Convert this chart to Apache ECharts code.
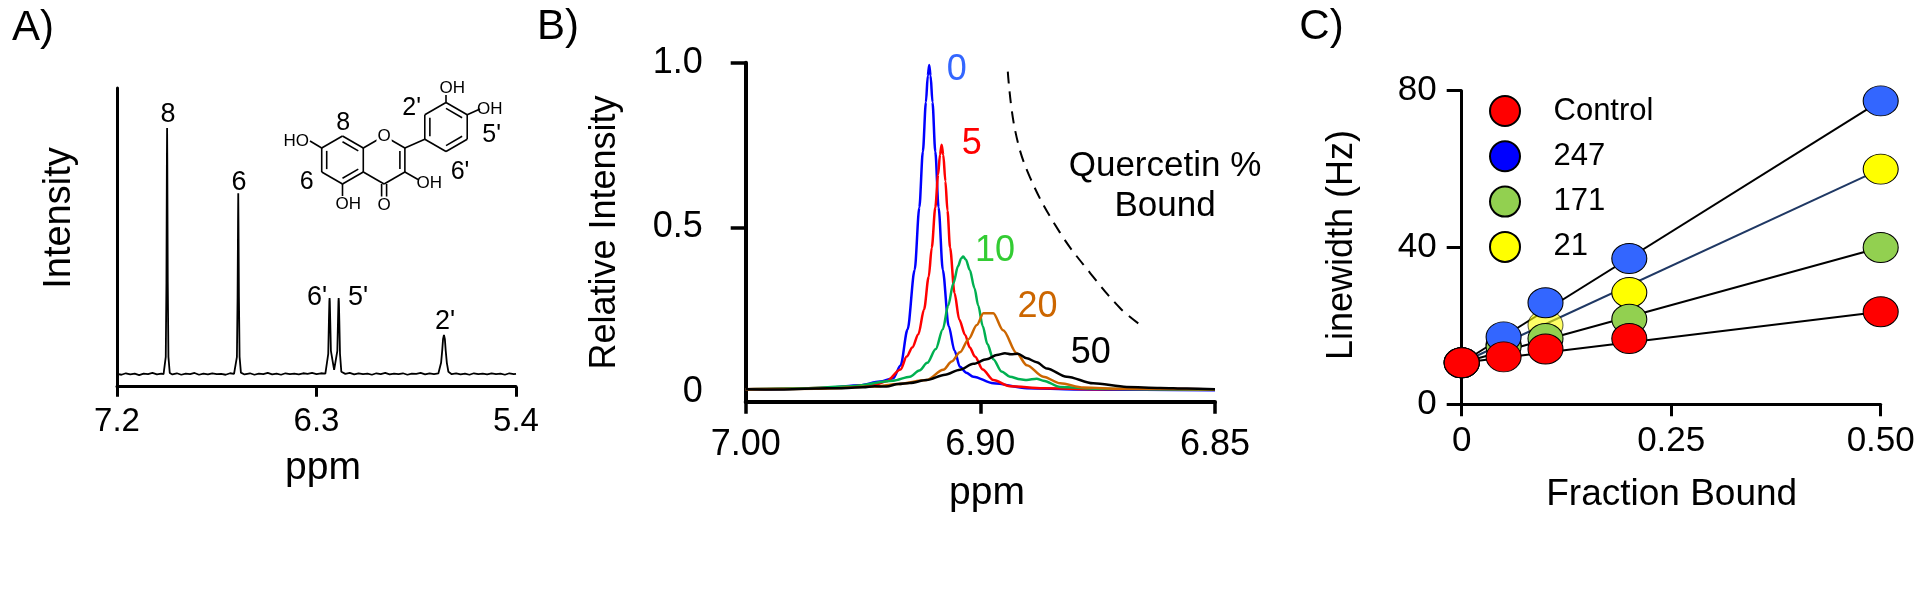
<!DOCTYPE html>
<html>
<head>
<meta charset="utf-8">
<title>Quercetin linewidth</title>
<script src="https://cdn.jsdelivr.net/npm/echarts@6.0.0/dist/echarts.min.js"></script>
<style>
  html, body { margin: 0; padding: 0; background: #fff; }
  #chart { width: 1920px; height: 595px; }
</style>
</head>
<body>
<div id="chart"></div>
<script>
// ---- A) 1H spectrum of free quercetin, [ppm, intensity] ----
const specA = [
  [7.200,0.043],[7.180,0.040],[7.160,0.045],[7.140,0.041],[7.120,0.044],[7.100,0.039],[7.080,0.044],
  [7.060,0.042],[7.040,0.046],[7.020,0.041],[7.000,0.044],[6.990,0.042],
  [6.986,0.046],[6.980,0.10],[6.977,0.35],[6.975,0.75],[6.974,0.866],[6.973,0.75],[6.971,0.35],[6.968,0.10],[6.962,0.046],
  [6.950,0.041],[6.930,0.045],[6.910,0.040],[6.890,0.044],[6.870,0.042],[6.850,0.046],[6.830,0.040],[6.810,0.044],
  [6.790,0.041],[6.770,0.045],[6.750,0.042],[6.730,0.043],[6.710,0.040],[6.690,0.045],[6.672,0.043],
  [6.665,0.048],[6.659,0.10],[6.656,0.30],[6.654,0.55],[6.653,0.648],[6.652,0.55],[6.650,0.30],[6.647,0.10],[6.641,0.047],
  [6.625,0.041],[6.600,0.045],[6.580,0.040],[6.560,0.044],[6.540,0.042],[6.520,0.046],[6.500,0.041],[6.480,0.044],
  [6.460,0.040],[6.440,0.045],[6.420,0.042],[6.400,0.044],[6.380,0.041],[6.360,0.045],[6.340,0.043],[6.320,0.046],
  [6.300,0.042],[6.280,0.045],[6.260,0.044],
  [6.253,0.050],[6.247,0.11],[6.244,0.22],[6.242,0.285],[6.241,0.297],[6.240,0.285],[6.238,0.22],[6.235,0.12],
  [6.2205,0.056],
  [6.206,0.12],[6.203,0.22],[6.201,0.285],[6.200,0.297],[6.199,0.285],[6.197,0.22],[6.194,0.11],[6.188,0.050],
  [6.170,0.043],[6.150,0.046],[6.130,0.041],[6.110,0.045],[6.090,0.042],[6.070,0.044],[6.050,0.040],[6.030,0.045],
  [6.010,0.042],[5.990,0.046],[5.970,0.041],[5.950,0.044],[5.930,0.042],[5.910,0.045],[5.890,0.040],[5.870,0.044],
  [5.850,0.043],[5.830,0.046],[5.810,0.041],[5.790,0.045],[5.770,0.042],[5.750,0.045],
  [5.745,0.050],[5.738,0.08],[5.733,0.12],[5.729,0.16],[5.725,0.173],[5.721,0.16],[5.717,0.12],[5.712,0.08],[5.705,0.050],
  [5.690,0.042],[5.670,0.045],[5.650,0.041],[5.630,0.044],[5.610,0.040],[5.590,0.045],[5.570,0.042],[5.550,0.044],
  [5.530,0.041],[5.510,0.045],[5.490,0.042],[5.470,0.044],[5.450,0.040],[5.430,0.045],[5.410,0.042],[5.400,0.043]
];
const aTickValues = [7.2, 6.3, 5.4];

// ---- B) one line at 0/5/10/20/50 % quercetin bound ----
const bTickValues = [7.0, 6.9, 6.8];
const bTickLabels = ['7.00', '6.90', '6.85'];   // as printed on the original axis
const bound0 = [
  [7.000,0.007],[6.990,0.008],[6.980,0.009],[6.9655,0.012],[6.9513,0.020],[6.9428,0.031],[6.9371,0.041],
  [6.9340,0.080],[6.9310,0.190],[6.9280,0.370],[6.9260,0.560],[6.9245,0.730],[6.9232,0.880],[6.9224,0.960],
  [6.9218,0.993],[6.9212,0.960],[6.9204,0.880],[6.9192,0.730],[6.9178,0.560],[6.9160,0.370],[6.9135,0.200],
  [6.9110,0.125],[6.9087,0.076],[6.9060,0.058],[6.9030,0.046],[6.8945,0.026],[6.8802,0.011],
  [6.860,0.007],[6.830,0.006],[6.800,0.005]
];
const bound5 = [
  [7.000,0.008],[6.980,0.010],[6.960,0.014],[6.945,0.021],[6.9400,0.032],[6.9340,0.068],[6.9314,0.107],
  [6.9290,0.135],[6.9264,0.175],[6.9240,0.250],[6.9220,0.350],[6.9207,0.438],[6.9192,0.560],[6.9180,0.660],
  [6.9172,0.720],[6.9165,0.751],[6.9158,0.720],[6.9149,0.640],[6.9140,0.550],[6.9129,0.438],[6.9110,0.300],
  [6.9090,0.220],[6.9065,0.173],[6.9045,0.135],[6.9023,0.107],[6.8990,0.068],[6.8945,0.036],[6.8874,0.017],
  [6.8732,0.011],[6.850,0.008],[6.825,0.009],[6.800,0.007]
];
const bound10 = [
  [7.000,0.008],[6.975,0.011],[6.955,0.017],[6.9371,0.034],[6.9300,0.046],[6.9260,0.065],[6.9226,0.088],
  [6.9190,0.130],[6.9160,0.190],[6.9137,0.262],[6.9115,0.330],[6.9095,0.382],[6.9082,0.405],[6.9073,0.411],
  [6.9062,0.402],[6.9045,0.370],[6.9025,0.315],[6.9009,0.262],[6.8990,0.200],[6.8970,0.145],[6.8945,0.099],
  [6.8910,0.062],[6.8874,0.046],[6.8830,0.038],[6.8802,0.036],[6.8760,0.040],[6.8732,0.034],[6.8660,0.015],
  [6.850,0.009],[6.800,0.006]
];
const bound20 = [
  [7.000,0.007],[6.970,0.009],[6.945,0.016],[6.935,0.024],[6.9229,0.036],[6.9158,0.067],[6.9122,0.092],
  [6.9087,0.120],[6.9050,0.160],[6.9015,0.203],[6.8987,0.239],[6.8945,0.239],[6.8903,0.187],[6.8845,0.117],
  [6.8802,0.081],[6.8732,0.046],[6.8660,0.026],[6.8561,0.013],[6.840,0.009],[6.800,0.007]
];
const bound50 = [
  [7.000,0.008],[6.985,0.007],[6.970,0.010],[6.960,0.011],[6.950,0.014],[6.945,0.017],[6.940,0.016],[6.935,0.024],
  [6.930,0.027],[6.9229,0.036],[6.915,0.052],[6.9087,0.067],[6.903,0.085],[6.8973,0.099],[6.893,0.112],
  [6.8895,0.117],[6.887,0.114],[6.884,0.116],[6.8802,0.102],[6.876,0.090],[6.8717,0.071],[6.8632,0.046],
  [6.8519,0.026],[6.8376,0.015],[6.8234,0.012],[6.812,0.010],[6.800,0.008]
];
const guideCurve = [
  [6.8883,0.973],[6.8852,0.795],[6.8788,0.651],[6.8660,0.483],[6.8532,0.361],[6.8404,0.254],[6.8327,0.208]
];

// ---- C) linewidth vs fraction bound ----
const fractionBound = [0, 0.05, 0.1, 0.2, 0.5];
const lwControl = [10.6, 12.1, 14.1, 16.8, 23.6];
const lw247 = [10.6, 17.2, 25.9, 37.2, 77.4];
const lw171 = [10.6, 14.7, 16.8, 21.7, 40.0];
const lw21 = [10.6, 15.3, 20.2, 28.5, 60.0];
const fitX = [0, 0.5];
const fitControl = [10.6, 23.6];
const fit247 = [10.6, 77.4];
const fit171 = [10.6, 40.0];
const fit21 = [10.6, 60.0];
const cTickValues = [0, 0.25, 0.5];
const cTickLabels = ['0', '0.25', '0.50'];

const FONT = '"Liberation Sans", Arial, sans-serif';
const ELLIPSE = 'path://M0,-1A1,1,0,1,1,0,1A1,1,0,1,1,0,-1Z';

function pick(values, labels, v) {
  const i = values.findIndex(t => Math.abs(t - v) < 1e-6);
  return i < 0 ? '' : labels[i];
}
function pairs(xs, ys) {
  return xs.map((x, i) => [x, ys[i]]);
}

function txt(x, y, s, size, opts) {
  opts = opts || {};
  return {
    type: 'text', x: x, y: y, rotation: opts.rotation || 0, z: 100,
    style: {
      text: s, fill: opts.color || '#000', fontSize: size, fontFamily: FONT,
      align: opts.align || 'center', verticalAlign: 'middle',
      backgroundColor: opts.bg, padding: opts.bg ? [0, 1] : 0
    }
  };
}

// quercetin sketch (inset of panel A)
function hexagon(cx, cy, s) {
  return [90, 30, -30, -90, -150, 150].map(a => {
    const r = a * Math.PI / 180;
    return [cx + s * Math.cos(r), cy - s * Math.sin(r)];
  });
}
function bond(p, q) {
  return { type: 'line', z: 90, shape: { x1: p[0], y1: p[1], x2: q[0], y2: q[1] },
           style: { stroke: '#000', lineWidth: 1.6 } };
}
function innerBond(p, q, c) {
  const k = 0.76;
  const a = [c[0] + (p[0] - c[0]) * k, c[1] + (p[1] - c[1]) * k];
  const b = [c[0] + (q[0] - c[0]) * k, c[1] + (q[1] - c[1]) * k];
  return bond(a, b);
}
function structure() {
  const els = [];
  const ca = [342.5, 160], cc = [384.1, 160], cb = [446, 127];
  const A = hexagon(ca[0], ca[1], 24);
  const C = hexagon(cc[0], cc[1], 24);
  const B = hexagon(cb[0], cb[1], 24.5);
  for (let i = 0; i < 6; i++) els.push(bond(A[i], A[(i + 1) % 6]));
  for (let i = 0; i < 6; i++) els.push(bond(B[i], B[(i + 1) % 6]));
  for (let i = 0; i < 4; i++) els.push(bond(C[i], C[i + 1]));
  els.push(bond(C[5], C[0]));
  els.push(innerBond(A[4], A[5], ca), innerBond(A[0], A[1], ca), innerBond(A[2], A[3], ca));
  els.push(innerBond(C[1], C[2], cc));
  els.push(innerBond(B[4], B[5], cb), innerBond(B[0], B[1], cb), innerBond(B[2], B[3], cb));
  els.push(bond(C[1], B[4]));
  // carbonyl
  els.push(bond([C[3][0] - 2.5, C[3][1]], [C[3][0] - 2.5, 197]), bond([C[3][0] + 2.5, C[3][1]], [C[3][0] + 2.5, 197]));
  // hydroxyls
  els.push(bond(A[3], [A[3][0], 196]));
  els.push(bond(C[2], [418, 179.5]));
  els.push(bond(A[5], [310, 141]));
  els.push(bond(B[0], [B[0][0], 95]));
  els.push(bond(B[1], [480, 109]));
  const f = 17;
  els.push(txt(C[0][0], C[0][1], 'O', f, { bg: '#fff' }));
  els.push(txt(C[3][0], 205, 'O', f, { bg: '#fff' }));
  els.push(txt(335.5, 204, 'OH', f, { align: 'left' }));
  els.push(txt(416.5, 183, 'OH', f, { align: 'left' }));
  els.push(txt(309, 141, 'HO', f, { align: 'right' }));
  els.push(txt(439.5, 88, 'OH', f, { align: 'left' }));
  els.push(txt(477, 109, 'OH', f, { align: 'left' }));
  const g = 25;
  els.push(txt(343.3, 123, '8', g), txt(306.7, 181.7, '6', g), txt(411.7, 108.3, "2'", g),
           txt(491.7, 135, "5'", g), txt(460, 171.7, "6'", g));
  return els;
}

const axisLine = w => ({ show: true, onZero: false, lineStyle: { color: '#000', width: w } });
const label = (size, margin, fmt) => ({ show: true, color: '#000', fontSize: size, fontFamily: FONT,
  margin: margin, formatter: fmt, showMinLabel: true, showMaxLabel: true });

const chart = echarts.init(document.getElementById('chart'), null, { renderer: 'canvas' });

const specLine = (data, color, xi) => ({
  type: 'line', xAxisIndex: xi, yAxisIndex: xi, data: data, showSymbol: false, symbol: 'none',
  smooth: xi === 1 ? 0.3 : false, smoothMonotone: 'x',
  lineStyle: { color: color, width: xi === 1 ? 2.5 : 1.8 }, silent: true
});
const fitLine = (ys, color) => ({
  type: 'line', xAxisIndex: 2, yAxisIndex: 2, data: pairs(fitX, ys), symbol: 'none',
  lineStyle: { color: color, width: 2 }, z: 1, silent: true
});
const dots = (name, ys, color, z) => ({
  name: name, type: 'scatter', xAxisIndex: 2, yAxisIndex: 2, symbol: ELLIPSE, symbolSize: [35, 30], z: z,
  data: pairs(fractionBound, ys),
  itemStyle: { color: color, opacity: 1, borderColor: '#000', borderWidth: 1 }
});

const yellowDots = dots('21', lw21, '#ffff00', 2);
yellowDots.data[2] = { value: yellowDots.data[2], itemStyle: { opacity: 0.6 } };

chart.setOption({
  animation: false,
  backgroundColor: '#fff',
  grid: [
    { left: 117, top: 88, width: 399, height: 298.7 },
    { left: 745.7, top: 62.7, width: 469.3, height: 339 },
    { left: 1461.7, top: 90.7, width: 419, height: 313.6 }
  ],
  xAxis: [
    { type: 'value', gridIndex: 0, min: 5.4, max: 7.2, interval: 0.9, inverse: true,
      axisLine: axisLine(3), splitLine: { show: false },
      axisTick: { show: true, length: 10, lineStyle: { color: '#000', width: 3 } },
      axisLabel: label(33, 19, v => pick(aTickValues, aTickValues.map(t => t.toFixed(1)), v)) },
    { type: 'value', gridIndex: 1, min: 6.8, max: 7.0, interval: 0.1, inverse: true,
      axisLine: axisLine(4), splitLine: { show: false },
      axisTick: { show: true, length: 12, lineStyle: { color: '#000', width: 3.5 } },
      axisLabel: label(36, 25, v => pick(bTickValues, bTickLabels, v)) },
    { type: 'value', gridIndex: 2, min: 0, max: 0.5, interval: 0.25,
      axisLine: axisLine(3), splitLine: { show: false },
      axisTick: { show: true, length: 12, lineStyle: { color: '#000', width: 3 } },
      axisLabel: label(35, 20, v => pick(cTickValues, cTickLabels, v)) }
  ],
  yAxis: [
    { type: 'value', gridIndex: 0, min: 0, max: 1,
      axisLine: axisLine(3), axisTick: { show: false }, axisLabel: { show: false }, splitLine: { show: false } },
    { type: 'value', gridIndex: 1, min: -0.03, max: 1.0,
      axisLine: axisLine(4), splitLine: { show: false },
      axisTick: { show: true, length: 15, customValues: [0.5, 1], lineStyle: { color: '#000', width: 3.5 } },
      axisLabel: Object.assign(label(36, 43, v => (v === 1 ? '1.0' : String(v))), { customValues: [0, 0.5, 1] }) },
    { type: 'value', gridIndex: 2, min: 0, max: 80, interval: 40,
      axisLine: axisLine(3), splitLine: { show: false },
      axisTick: { show: true, length: 15, lineStyle: { color: '#000', width: 3 } },
      axisLabel: label(35, 25, v => String(v)) }
  ],
  legend: {
    orient: 'vertical', left: 1489, top: 95, padding: 0, itemWidth: 35, itemHeight: 30, itemGap: 13.3,
    icon: ELLIPSE, selectedMode: false,
    data: [{ name: 'Control' }, { name: '247', itemStyle: { color: '#0000ff' } }, { name: '171' }, { name: '21' }],
    textStyle: { color: '#000', fontSize: 31, fontFamily: FONT, padding: [0, 0, 0, 26] }
  },
  series: [
    specLine(specA, '#000', 0),
    specLine(bound0, '#0000ff', 1),
    specLine(bound5, '#ff0000', 1),
    specLine(bound10, '#00b050', 1),
    specLine(bound20, '#cc6600', 1),
    specLine(bound50, '#000000', 1),
    { type: 'line', xAxisIndex: 1, yAxisIndex: 1, data: guideCurve, symbol: 'none', smooth: 0.4,
      lineStyle: { color: '#000', width: 2, type: [12, 8] }, silent: true },
    fitLine(fit247, '#000'),
    fitLine(fit21, '#1f3864'),
    fitLine(fit171, '#000'),
    fitLine(fitControl, '#000'),
    yellowDots,
    dots('171', lw171, '#92d050', 3),
    dots('247', lw247, '#3366ff', 4),
    dots('Control', lwControl, '#ff0000', 5)
  ],
  graphic: {
    elements: [
      txt(33, 28, 'A)', 42), txt(558, 27, 'B)', 42), txt(1321.5, 27, 'C)', 42),
      txt(60, 218, 'Intensity', 38, { rotation: Math.PI / 2 }),
      txt(323, 468, 'ppm', 39),
      txt(168, 115, '8', 27), txt(239, 183, '6', 27), txt(317, 298, "6'", 27),
      txt(358, 298, "5'", 27), txt(445, 322, "2'", 27),
      txt(605, 232.5, 'Relative Intensity', 36, { rotation: Math.PI / 2 }),
      txt(987, 493, 'ppm', 39),
      txt(956.7, 70, '0', 36, { color: '#3366ff' }),
      txt(971.7, 144, '5', 36, { color: '#ff0000' }),
      txt(995, 251, '10', 36, { color: '#33cc33' }),
      txt(1037.5, 306.7, '20', 36, { color: '#cc6600' }),
      txt(1090.8, 353.3, '50', 36),
      txt(1165, 166, 'Quercetin %', 35),
      txt(1165, 206, 'Bound', 35),
      txt(1341.7, 245, 'Linewidth (Hz)', 36, { rotation: Math.PI / 2 }),
      txt(1671.7, 495, 'Fraction Bound', 37)
    ].concat(structure())
  }
});
</script>
</body>
</html>
